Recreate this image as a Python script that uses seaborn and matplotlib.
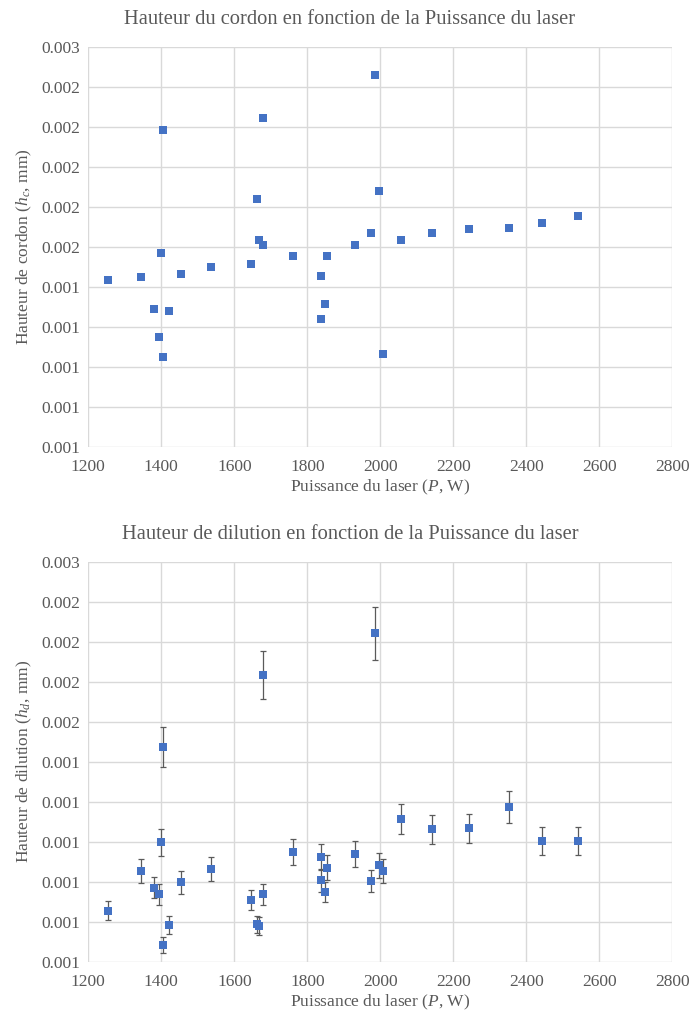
import matplotlib
matplotlib.use("Agg")
import matplotlib.pyplot as plt
import seaborn as sns
import pandas as pd
from matplotlib.ticker import FixedLocator, FixedFormatter

# ---- data ----
puissance_haut = [1255, 1345, 1405, 1399, 1380, 1420, 1394, 1404, 1455, 1537,
                  1678, 1661, 1668, 1678, 1647, 1762, 1854, 1837, 1849, 1837,
                  1931, 1974, 1985, 1996, 2008, 2057, 2141, 2242, 2352, 2442, 2542]
hauteur_cordon = [0.001334, 0.001347, 0.002082, 0.001470, 0.001190, 0.001177, 0.001050,
                  0.000950, 0.001362, 0.001397, 0.002145, 0.001740, 0.001534, 0.001507,
                  0.001414, 0.001452, 0.001452, 0.001354, 0.001214, 0.001137, 0.001508,
                  0.001568, 0.002357, 0.001780, 0.000964, 0.001534, 0.001567, 0.001587,
                  0.001595, 0.001618, 0.001652]

puissance_bas = [1255, 1345, 1380, 1394, 1399, 1405, 1404, 1420, 1455, 1537,
                 1647, 1661, 1668, 1678, 1678, 1762, 1837, 1837, 1849, 1854,
                 1931, 1974, 1985, 1996, 2008, 2057, 2141, 2242, 2352, 2442, 2542]
hauteur_dilution = [0.000755, 0.000952, 0.000870, 0.000837, 0.001097, 0.001574, 0.000584,
                    0.000684, 0.000897, 0.000964, 0.000810, 0.000687, 0.000680, 0.001935,
                    0.000837, 0.001050, 0.001025, 0.000907, 0.000848, 0.000970, 0.001040,
                    0.000905, 0.002142, 0.000982, 0.000955, 0.001212, 0.001162, 0.001167,
                    0.001275, 0.001104, 0.001104]
erreur_dilution = [0.0000475, 0.0000600, 0.0000535, 0.0000515, 0.0000690, 0.0000985, 0.0000400,
                   0.0000435, 0.0000565, 0.0000615, 0.0000500, 0.0000420, 0.0000450, 0.0001200,
                   0.0000515, 0.0000650, 0.0000650, 0.0000565, 0.0000515, 0.0000615, 0.0000650,
                   0.0000560, 0.0001340, 0.0000615, 0.0000610, 0.0000750, 0.0000725, 0.0000735,
                   0.0000810, 0.0000685, 0.0000685]

x_ticks = [1200, 1400, 1600, 1800, 2000, 2200, 2400, 2600, 2800]
y_ticks = [0.0005, 0.0007, 0.0009, 0.0011, 0.0013, 0.0015, 0.0017, 0.0019, 0.0021, 0.0023, 0.0025]
y_labels_haut = ["0.001", "0.001", "0.001", "0.001", "0.001", "0.002",
                 "0.002", "0.002", "0.002", "0.002", "0.003"]
y_labels_bas = ["0.001", "0.001", "0.001", "0.001", "0.001", "0.001",
                "0.002", "0.002", "0.002", "0.002", "0.003"]

titre_haut = "Hauteur du cordon en fonction de la Puissance du laser"
titre_bas = "Hauteur de dilution en fonction de la Puissance du laser"
xlabel = r"Puissance du laser ($\mathit{P}$, W)"
ylabel_haut = r"Hauteur de cordon ($\mathit{h_c}$, mm)"
ylabel_bas = r"Hauteur de dilution ($\mathit{h_d}$, mm)"

# ---- style ----
sns.set_theme(style="white")
plt.rcParams["font.family"] = ["Liberation Serif", "DejaVu Serif"]
plt.rcParams["mathtext.fontset"] = "custom"
plt.rcParams["mathtext.rm"] = "Liberation Serif"
plt.rcParams["mathtext.it"] = "Liberation Serif:italic"
plt.rcParams["mathtext.bf"] = "Liberation Serif:bold"

BLUE = "#4472C4"
GRID = "#D9D9D9"
TXT = "#595959"

fig = plt.figure(figsize=(6.91, 10.13), dpi=100)
W, H = 691, 1013
def rect(l, t, r, b):
    return [l / W, 1 - b / H, (r - l) / W, (b - t) / H]

ax1 = fig.add_axes(rect(88.3, 46.7, 672.3, 446.7))
ax2 = fig.add_axes(rect(88.3, 561.7, 672.3, 961.7))

df_h = pd.DataFrame({"P": puissance_haut, "h": hauteur_cordon})
df_b = pd.DataFrame({"P": puissance_bas, "h": hauteur_dilution, "err": erreur_dilution})

ax2.errorbar(df_b["P"], df_b["h"], yerr=df_b["err"], fmt="none", ecolor="#5a5a5a",
             elinewidth=0.9, capsize=2.5, capthick=0.9, zorder=3)

sns.scatterplot(data=df_h, x="P", y="h", ax=ax1, marker="s", s=27, color=BLUE,
                edgecolor=BLUE, linewidth=0, zorder=4)
sns.scatterplot(data=df_b, x="P", y="h", ax=ax2, marker="s", s=32, color=BLUE,
                edgecolor=BLUE, linewidth=0, zorder=4)

for ax, labels, ylab in [(ax1, y_labels_haut, ylabel_haut),
                         (ax2, y_labels_bas, ylabel_bas)]:
    ax.set_xlim(1200, 2800)
    ax.set_ylim(0.0005, 0.0025)
    ax.xaxis.set_major_locator(FixedLocator(x_ticks))
    ax.yaxis.set_major_locator(FixedLocator(y_ticks))
    ax.yaxis.set_major_formatter(FixedFormatter(labels))
    ax.grid(True, color=GRID, linewidth=1.0)
    ax.set_axisbelow(True)
    for sp in ax.spines.values():
        sp.set_visible(False)
    ax.tick_params(axis="y", length=0, labelsize=12.5, labelcolor=TXT, pad=6)
    ax.tick_params(axis="x", length=0, labelsize=12.5, labelcolor=TXT, pad=9)
    ax.set_xlabel(xlabel, fontsize=12.5, color=TXT, labelpad=2)
    ax.set_ylabel(ylab, fontsize=12.5, color=TXT, labelpad=5)

fig.text(350 / W, 1 - 19 / H, titre_haut, ha="center", va="center", fontsize=14.8, color=TXT)
fig.text(350 / W, 1 - 534 / H, titre_bas, ha="center", va="center", fontsize=14.8, color=TXT)

fig.savefig("out.png", dpi=100, facecolor="white")
